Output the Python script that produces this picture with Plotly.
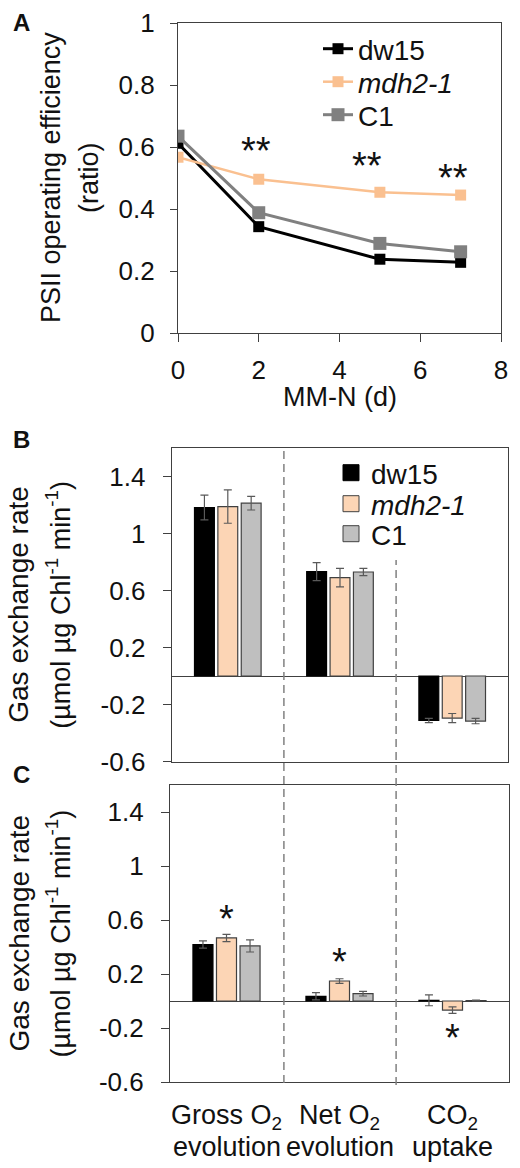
import plotly.graph_objects as go

# ---------------- data ----------------
days = [0, 2, 5, 7]
psii_dw15 = [0.612, 0.343, 0.238, 0.228]
psii_mdh = [0.567, 0.496, 0.454, 0.445]
psii_c1 = [0.635, 0.388, 0.289, 0.262]
starsA_x = [1.93, 4.68, 6.81]
starsA_y = [0.588, 0.539, 0.501]
starsA_txt = ["**", "**", "**"]

categories = ["Gross O<sub>2</sub><br>evolution", "Net O<sub>2</sub><br>evolution", "CO<sub>2</sub><br>uptake"]
genotypes = ["dw15", "<i>mdh2-1</i>", "C1"]

B_dw15 = [1.182, 0.732, -0.312]
B_dw15_err = [0.087, 0.063, 0.015]
B_mdh = [1.189, 0.690, -0.295]
B_mdh_err = [0.117, 0.065, 0.032]
B_c1 = [1.213, 0.730, -0.316]
B_c1_err = [0.048, 0.025, 0.019]

C_dw15 = [0.418, 0.035, 0.005]
C_dw15_err = [0.027, 0.027, 0.040]
C_mdh = [0.467, 0.148, -0.067]
C_mdh_err = [0.027, 0.017, 0.024]
C_c1 = [0.408, 0.054, 0.003]
C_c1_err = [0.045, 0.017, 0.003]
starsC_x = [0, 1, 2]
starsC_y = [0.605, 0.291, -0.273]

yticks_BC = [-0.6, -0.2, 0.2, 0.6, 1, 1.4]
yticktext_BC = ["-0.6", "-0.2", "0.2", "0.6", "1", "1.4"]
xticks_A = [0, 2, 4, 6, 8]
yticks_A = [0, 0.2, 0.4, 0.6, 0.8, 1]
yticktext_A = ["0", "0.2", "0.4", "0.6", "0.8", "1"]

# ---------------- style ----------------
W, H = 520, 1168
FONT = "Liberation Sans, Arial, sans-serif"
TXT = "#111111"
col_dw = "#000000"
col_mdh_line = "#FAC090"
col_c1_line = "#808080"
col_mdh_bar = "#FCD5B5"
col_c1_bar = "#BFBFBF"
edge = "#404040"
axcol = "#404040"


def px(x):
    return x / W


def py(y):
    return 1 - y / H


fig = go.Figure()

# Panel A lines (each legend entry in its own legend box for exact row spacing)
legA_rows = [49, 82, 115]
for i, (name, vals, col, lw, ms) in enumerate([
    (genotypes[0], psii_dw15, col_dw, 3, 11),
    (genotypes[1], psii_mdh, col_mdh_line, 2.5, 11),
    (genotypes[2], psii_c1, col_c1_line, 3, 13),
]):
    fig.add_trace(go.Scatter(
        x=days, y=vals, name=name, mode="lines+markers",
        line=dict(color=col, width=lw),
        marker=dict(symbol="square", size=ms, color=col),
        xaxis="x", yaxis="y", legend="legend" if i == 0 else "legend%d" % (i + 1),
    ))

# Panel B and C bars
legB_rows = [473, 504, 534]
bar_specs = [
    (genotypes[0], B_dw15, B_dw15_err, C_dw15, C_dw15_err, col_dw, col_dw),
    (genotypes[1], B_mdh, B_mdh_err, C_mdh, C_mdh_err, col_mdh_bar, edge),
    (genotypes[2], B_c1, B_c1_err, C_c1, C_c1_err, col_c1_bar, edge),
]
for i, (name, bv, be, cv, ce, fill, ln) in enumerate(bar_specs):
    for vals, errs, xa, ya in [(bv, be, "x2", "y2"), (cv, ce, "x3", "y3")]:
        fig.add_trace(go.Bar(
            x=categories, y=vals, name=name, showlegend=False,
            marker=dict(color=fill, line=dict(color=ln, width=1.2)),
            error_y=dict(type="data", array=errs, color="#595959", thickness=1.2, width=4),
            xaxis=xa, yaxis=ya,
        ))
    fig.add_trace(go.Scatter(
        x=[None], y=[None], name=name, mode="markers",
        marker=dict(symbol="square", size=16, color=fill, line=dict(color=ln, width=1)),
        xaxis="x2", yaxis="y2", legend="legend%d" % (i + 4),
    ))

axis_common = dict(showgrid=False, showline=True, linecolor=axcol, linewidth=1.2, mirror=True,
                   tickfont=dict(family=FONT, size=26, color=TXT), zeroline=False, automargin=False)

layout_legends = {}
for i, ry in enumerate(legA_rows):
    key = "legend" if i == 0 else "legend%d" % (i + 1)
    layout_legends[key] = dict(x=px(318), y=py(ry), xanchor="left", yanchor="middle",
                               bgcolor="rgba(0,0,0,0)", font=dict(family=FONT, size=28, color=TXT))
for i, ry in enumerate(legB_rows):
    layout_legends["legend%d" % (i + 4)] = dict(x=px(331), y=py(ry), xanchor="left", yanchor="middle",
                                                bgcolor="rgba(0,0,0,0)",
                                                font=dict(family=FONT, size=28, color=TXT))

fig.update_layout(
    width=W, height=H, autosize=False,
    margin=dict(l=0, r=0, t=0, b=0, autoexpand=False),
    paper_bgcolor="white", plot_bgcolor="white",
    font=dict(family=FONT, color=TXT),
    barmode="group", bargap=0.375, bargroupgap=0.15,
    xaxis=dict(domain=[px(178), px(501)], anchor="y", range=[0, 8], tickvals=xticks_A,
               ticks="outside", ticklen=8, tickcolor=axcol, ticklabelstandoff=6, **axis_common),
    yaxis=dict(domain=[py(333), py(23)], anchor="x", range=[0, 1], tickvals=yticks_A, ticktext=yticktext_A,
               ticks="outside", ticklen=7, tickcolor=axcol, ticklabelstandoff=10, **axis_common),
    xaxis2=dict(domain=[px(171.7), px(508.3)], anchor="y2", type="category", range=[-0.5, 2.5],
                showticklabels=False, ticks="", **axis_common),
    yaxis2=dict(domain=[py(761.5), py(448)], anchor="x2", range=[-0.6, 1.6], tickvals=yticks_BC,
                ticktext=yticktext_BC, ticks="outside", ticklen=8, tickcolor=axcol, ticklabelstandoff=12,
                **{**axis_common, "zeroline": True}, zerolinecolor=axcol, zerolinewidth=1.2),
    xaxis3=dict(domain=[px(170), px(509)], anchor="y3", type="category", range=[-0.5, 2.5],
                ticks="", showticklabels=False, **axis_common),
    yaxis3=dict(domain=[py(1082), py(785)], anchor="x3", range=[-0.6, 1.6], tickvals=yticks_BC,
                ticktext=yticktext_BC, ticks="outside", ticklen=8, tickcolor=axcol, ticklabelstandoff=12,
                **{**axis_common, "zeroline": True}, zerolinecolor=axcol, zerolinewidth=1.2),
    **layout_legends,
)

# dashed separators spanning panels B and C
fig.add_shape(type="line", xref="x2", yref="paper", x0=0.5, x1=0.5, y0=py(1083), y1=py(449),
              line=dict(color="#808080", width=1.5, dash="8px,5px"))
fig.add_shape(type="line", xref="x2", yref="paper", x0=1.5, x1=1.5, y0=py(1085), y1=py(560),
              line=dict(color="#808080", width=1.5, dash="8px,5px"))

ann = []
for letter, (lx, ly) in zip(["A", "B", "C"], [(21, 23), (21, 440), (21, 774)]):
    ann.append(dict(text="<b>%s</b>" % letter, x=px(lx), y=py(ly), xref="paper", yref="paper",
                    showarrow=False, font=dict(family=FONT, size=24, color=TXT),
                    xanchor="center", yanchor="middle"))
ann.append(dict(text="PSII operating efficiency", x=px(51), y=py(178), xref="paper", yref="paper",
                textangle=-90, showarrow=False, font=dict(family=FONT, size=27, color=TXT),
                xanchor="center", yanchor="middle"))
ann.append(dict(text="(ratio)", x=px(89), y=py(178), xref="paper", yref="paper",
                textangle=-90, showarrow=False, font=dict(family=FONT, size=27, color=TXT),
                xanchor="center", yanchor="middle"))
for cy in [(448 + 761.5) / 2, (785 + 1082) / 2]:
    ann.append(dict(text="Gas exchange rate", x=px(19), y=py(cy), xref="paper", yref="paper",
                    textangle=-90, showarrow=False, font=dict(family=FONT, size=28, color=TXT),
                    xanchor="center", yanchor="middle"))
    ann.append(dict(text="(µmol µg Chl<sup>-1</sup> min<sup>-1</sup>)", x=px(58), y=py(cy),
                    xref="paper", yref="paper", textangle=-90, showarrow=False,
                    font=dict(family=FONT, size=27, color=TXT), xanchor="center", yanchor="middle"))
ann.append(dict(text="MM-N (d)", x=px(339.5), y=py(397), xref="paper", yref="paper", showarrow=False,
                font=dict(family=FONT, size=27, color=TXT), xanchor="center", yanchor="middle"))
# category labels of panel C (two lines each, tighter line spacing than tick labels allow)
for ci, cat in enumerate(categories):
    line1, line2 = cat.split("<br>")
    for txt, ly in [(line1, 1117), (line2, 1147)]:
        ann.append(dict(text=txt, x=ci, y=py(ly), xref="x3", yref="paper", showarrow=False,
                        font=dict(family=FONT, size=27, color=TXT), xanchor="center", yanchor="middle"))
for sx, sy, st in zip(starsA_x, starsA_y, starsA_txt):
    ann.append(dict(text=st, x=sx, y=sy, xref="x", yref="y", showarrow=False,
                    font=dict(family=FONT, size=38, color=TXT), xanchor="center", yanchor="middle"))
for sx, sy in zip(starsC_x, starsC_y):
    ann.append(dict(text="*", x=sx, y=sy, xref="x3", yref="y3", showarrow=False,
                    font=dict(family=FONT, size=38, color=TXT), xanchor="center", yanchor="middle"))
fig.update_layout(annotations=ann)

fig.write_html("out.html", config={"displayModeBar": False},
               post_script="document.body.style.margin='0';")
